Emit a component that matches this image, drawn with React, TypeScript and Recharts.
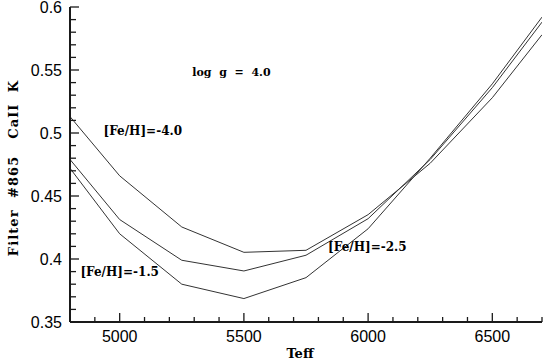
import React from "react";
import { LineChart, Line, XAxis, YAxis, ReferenceDot } from "recharts";

const teff = [4800, 5000, 5250, 5500, 5750, 6000, 6250, 6500, 6700];
const feh40 = [0.513, 0.466, 0.4254, 0.4053, 0.4069, 0.4352, 0.476, 0.528, 0.578];
const feh25 = [0.479, 0.4313, 0.399, 0.3905, 0.403, 0.432, 0.479, 0.536, 0.588];
const feh15 = [0.472, 0.42, 0.38, 0.3686, 0.3852, 0.424, 0.48, 0.539, 0.592];

const xTicks = [
  4800, 4900, 5000, 5100, 5200, 5300, 5400, 5500, 5600, 5700, 5800, 5900,
  6000, 6100, 6200, 6300, 6400, 6500, 6600, 6700,
];
const yTicks = [
  0.35, 0.36, 0.37, 0.38, 0.39, 0.4, 0.41, 0.42, 0.43, 0.44, 0.45, 0.46, 0.47,
  0.48, 0.49, 0.5, 0.51, 0.52, 0.53, 0.54, 0.55, 0.56, 0.57, 0.58, 0.59, 0.6,
];

const data = teff.map((t, i) => ({
  t,
  a: feh40[i],
  b: feh25[i],
  c: feh15[i],
}));

const INK = "#1a1a1a";
const SANS = "'Liberation Sans', Arial, sans-serif";
const SERIF = "'DejaVu Serif', serif";
const NB = "\u00A0";

const isMajorX = (v: number) => v % 500 === 0;
const isMajorY = (v: number) => Math.round(v * 100) % 5 === 0;

function BottomTick({ x, y, payload }: any) {
  const major = isMajorX(payload.value);
  return (
    <g>
      <line x1={x} y1={y} x2={x} y2={y - (major ? 9 : 5)} stroke={INK} strokeWidth={1.3} />
      {major && (
        <text x={x} y={y + 20} textAnchor="middle" fontFamily={SANS} fontSize={16} fill="#000">
          {payload.value}
        </text>
      )}
    </g>
  );
}

function TopTick({ x, y, payload }: any) {
  const major = isMajorX(payload.value);
  return <line x1={x} y1={y} x2={x} y2={y + (major ? 9 : 5)} stroke={INK} strokeWidth={1.3} />;
}

function LeftTick({ x, y, payload }: any) {
  const major = isMajorY(payload.value);
  return (
    <g>
      <line x1={x} y1={y} x2={x + (major ? 9 : 6)} y2={y} stroke={INK} strokeWidth={1.3} />
      {major && (
        <text x={x - 8} y={y + 6} textAnchor="end" fontFamily={SANS} fontSize={16} fill="#000">
          {String(Math.round(payload.value * 100) / 100)}
        </text>
      )}
    </g>
  );
}

function RightTick({ x, y, payload }: any) {
  const major = isMajorY(payload.value);
  return <line x1={x} y1={y} x2={x - (major ? 9 : 6)} y2={y} stroke={INK} strokeWidth={1.3} />;
}

const labelStyle = {
  fontFamily: SERIF,
  fontWeight: 700,
  fontSize: 12,
  fill: "#000",
};

function note(x: number, y: number, text: string, size = 12) {
  return (
    <ReferenceDot
      x={x}
      y={y}
      r={0}
      fill="none"
      stroke="none"
      label={{ value: text, position: "center", ...labelStyle, fontSize: size }}
    />
  );
}

export default function App() {
  return (
    <div style={{ position: "absolute", left: 0, top: 0, width: 543, height: 363, background: "#fff" }}>
      <LineChart
        width={543}
        height={363}
        data={data}
        margin={{ top: 7, right: 1, bottom: 0, left: 0 }}
      >
        <XAxis
          dataKey="t"
          type="number"
          domain={[4800, 6700]}
          ticks={xTicks}
          interval={0}
          height={41}
          tickSize={0}
          tickMargin={0}
          tickLine={false}
          axisLine={{ stroke: INK, strokeWidth: 2 }}
          tick={<BottomTick />}
          allowDataOverflow
        />
        <XAxis
          xAxisId="top"
          orientation="top"
          dataKey="t"
          type="number"
          domain={[4800, 6700]}
          ticks={xTicks}
          interval={0}
          height={0}
          tickSize={0}
          tickMargin={0}
          tickLine={false}
          axisLine={{ stroke: INK, strokeWidth: 2 }}
          tick={<TopTick />}
        />
        <YAxis
          type="number"
          domain={[0.35, 0.6]}
          ticks={yTicks}
          interval={0}
          width={70}
          tickSize={0}
          tickMargin={0}
          tickLine={false}
          axisLine={{ stroke: INK, strokeWidth: 2 }}
          tick={<LeftTick />}
          allowDataOverflow
        />
        <YAxis
          yAxisId="right"
          orientation="right"
          type="number"
          domain={[0.35, 0.6]}
          ticks={yTicks}
          interval={0}
          width={0}
          tickSize={0}
          tickMargin={0}
          tickLine={false}
          axisLine={{ stroke: INK, strokeWidth: 2 }}
          tick={<RightTick />}
        />
        <Line dataKey="a" stroke="#333" strokeWidth={1} dot={false} isAnimationActive={false} />
        <Line dataKey="b" stroke="#333" strokeWidth={1} dot={false} isAnimationActive={false} />
        <Line dataKey="c" stroke="#333" strokeWidth={1} dot={false} isAnimationActive={false} />
        {note(5450, 0.548, `log${NB}${NB}g${NB}${NB}=${NB}${NB}4.0`, 11)}
        {note(5093, 0.502, "[Fe/H]=-4.0")}
        {note(5000, 0.39, "[Fe/H]=-1.5")}
        {note(5997, 0.4095, "[Fe/H]=-2.5")}
      </LineChart>
      <svg
        width={30}
        height={363}
        style={{ position: "absolute", left: 0, top: 0, overflow: "visible" }}
      >
        <text
          x={13}
          y={168}
          transform="rotate(-90 13 168)"
          textAnchor="middle"
          dominantBaseline="central"
          fontFamily={SERIF}
          fontWeight={700}
          fontSize={13}
          letterSpacing={1.1}
          style={{ whiteSpace: "pre" }}
        >
          {"Filter  #865   CaII  K"}
        </text>
      </svg>
      <div
        style={{
          position: "absolute",
          left: 0,
          width: 543,
          top: 344,
          textAlign: "center",
          paddingLeft: 57,
          boxSizing: "border-box",
          fontFamily: SERIF,
          fontWeight: 700,
          fontSize: 13,
          lineHeight: "20px",
        }}
      >
        Teff
      </div>
    </div>
  );
}
